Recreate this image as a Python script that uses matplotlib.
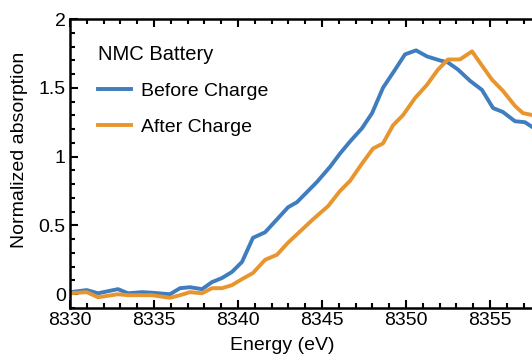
import numpy as np
import matplotlib
matplotlib.use("Agg")
import matplotlib.pyplot as plt
from matplotlib.ticker import MultipleLocator

plt.rcParams['font.family'] = ['Liberation Sans', 'DejaVu Sans']

# Before charge (blue)
energy_before = [8330.0, 8331.0, 8331.67, 8332.26, 8332.86, 8333.45, 8334.29, 8334.88,
                 8335.95, 8336.55, 8337.14, 8337.86, 8338.45, 8339.05, 8339.64, 8340.24,
                 8340.89, 8341.61, 8342.32, 8342.98, 8343.51, 8344.11, 8344.70, 8345.48,
                 8346.07, 8346.67, 8347.38, 8347.98, 8348.63, 8349.35, 8349.94, 8350.60,
                 8351.25, 8352.02, 8352.50, 8353.10, 8353.81, 8354.52, 8355.18, 8355.77,
                 8356.49, 8357.08, 8357.70, 8358.30]
absorb_before = [0.015, 0.03, 0.007, 0.022, 0.037, 0.007, 0.015, 0.011,
                 0.0, 0.044, 0.051, 0.037, 0.088, 0.118, 0.162, 0.235,
                 0.41, 0.45, 0.544, 0.632, 0.669, 0.743, 0.816, 0.926,
                 1.022, 1.11, 1.206, 1.316, 1.50, 1.632, 1.743, 1.772,
                 1.728, 1.699, 1.684, 1.632, 1.551, 1.485, 1.353, 1.324,
                 1.257, 1.25, 1.20, 1.17]

# After charge (orange)
energy_after = [8330.0, 8331.0, 8331.67, 8332.86, 8333.45, 8334.29, 8334.88, 8335.95,
                8336.55, 8337.14, 8337.86, 8338.45, 8339.05, 8339.64, 8340.24, 8340.89,
                8341.61, 8342.32, 8342.98, 8343.69, 8344.46, 8345.36, 8346.07, 8346.67,
                8347.38, 8348.04, 8348.63, 8349.23, 8349.82, 8350.54, 8351.25, 8351.90,
                8352.50, 8353.21, 8353.93, 8354.52, 8355.12, 8355.77, 8356.49, 8356.96,
                8357.60, 8358.30]
absorb_after = [0.007, 0.015, -0.022, 0.0, -0.007, -0.007, -0.007, -0.026,
                -0.007, 0.015, 0.007, 0.044, 0.044, 0.066, 0.11, 0.154,
                0.25, 0.287, 0.375, 0.456, 0.544, 0.64, 0.75, 0.824,
                0.949, 1.059, 1.096, 1.228, 1.301, 1.426, 1.522, 1.632,
                1.706, 1.706, 1.765, 1.662, 1.559, 1.478, 1.368, 1.316,
                1.30, 1.28]

fig = plt.figure(figsize=(5.32, 3.58), dpi=100)
ax = fig.add_axes([70/532, 50/358, 462/532, 289/358])

ax.plot(energy_before, absorb_before, color='#3f7dbe', lw=2.8, label='Before Charge')
ax.plot(energy_after, absorb_after, color='#e8952e', lw=2.8, label='After Charge')

ax.set_xlim(8330, 8357.5)
ax.set_ylim(-0.1, 2)
ax.xaxis.set_major_locator(MultipleLocator(5))
ax.xaxis.set_minor_locator(MultipleLocator(1))
ax.yaxis.set_major_locator(MultipleLocator(0.5))
ax.yaxis.set_minor_locator(MultipleLocator(0.1))
ax.set_yticks([0, 0.5, 1, 1.5, 2])
ax.set_yticklabels(['0', '0.5', '1', '1.5', '2'])

ax.spines['right'].set_visible(False)
for s in ['left', 'bottom', 'top']:
    ax.spines[s].set_linewidth(1.8)
ax.tick_params(which='both', direction='in', top=True, right=False, labelsize=14, width=1.5)
ax.tick_params(which='major', length=6, pad=3)
ax.tick_params(which='minor', length=3.5)

ax.set_xlabel('Energy (eV)', fontsize=14)
ax.set_ylabel('Normalized absorption', fontsize=14)
ax.xaxis.set_label_coords(0.459, -0.10)
ax.yaxis.set_label_coords(-0.091, 0.547)

leg = ax.legend(title='NMC Battery', loc='upper left', bbox_to_anchor=(0.04, 0.945),
                frameon=False, fontsize=14, title_fontsize=14.5, alignment='left',
                handlelength=1.7, handletextpad=0.5, labelspacing=0.95, borderpad=0)

fig.savefig('out.png', dpi=100)
